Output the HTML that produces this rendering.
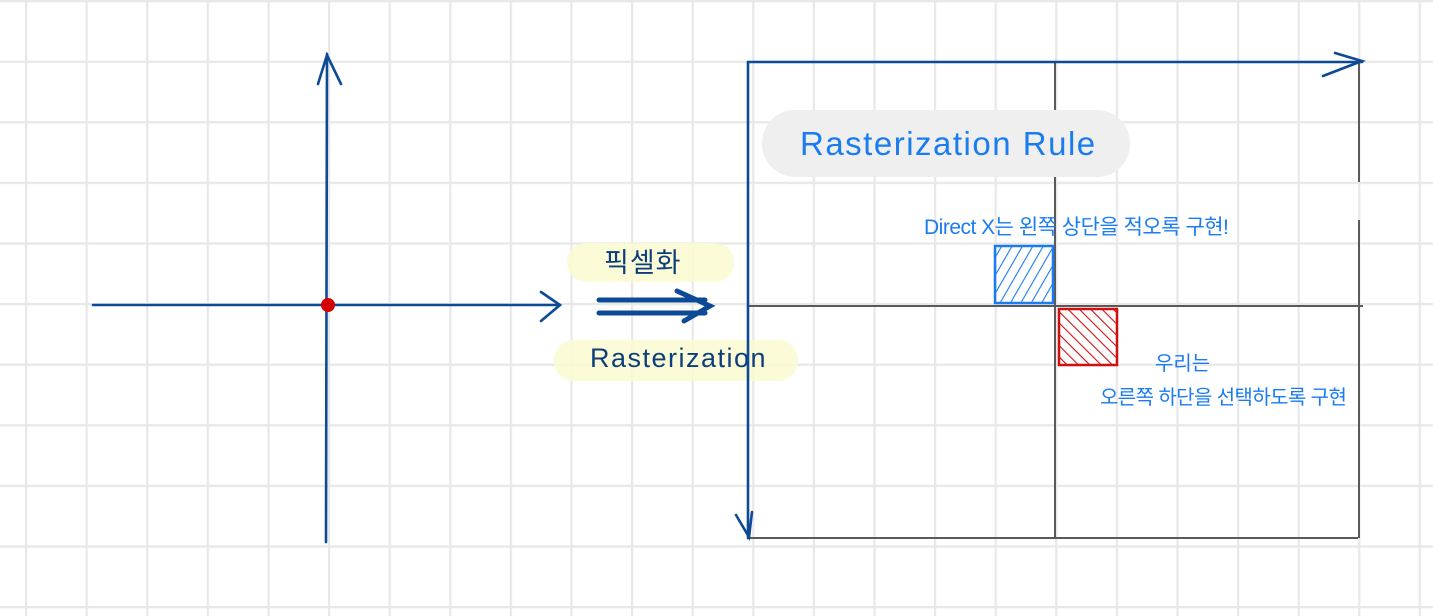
<!DOCTYPE html>
<html><head><meta charset="utf-8"><style>
html,body{margin:0;padding:0;background:#fff;}
svg{display:block}
text{font-family:"Liberation Sans","Noto Sans CJK KR",sans-serif;}
</style></head><body>
<svg width="1433" height="616" viewBox="0 0 1433 616" xmlns="http://www.w3.org/2000/svg">
<defs>
<pattern id="g" x="25" y="0" width="60.6" height="60.6" patternUnits="userSpaceOnUse">
<path d="M1.1 0V60.6M0 1.1H60.6" stroke="#e8e8e8" stroke-width="2.2" fill="none"/>
</pattern>
<pattern id="hb" width="9" height="9" patternUnits="userSpaceOnUse" patternTransform="rotate(30)">
<line x1="0" y1="0" x2="0" y2="9" stroke="#1a7cf0" stroke-width="2.2"/>
</pattern>
<pattern id="hr" width="8" height="8" patternUnits="userSpaceOnUse" patternTransform="rotate(-45)">
<line x1="0" y1="0" x2="0" y2="8" stroke="#d01010" stroke-width="2.2"/>
</pattern>
</defs>
<rect width="1433" height="616" fill="#fff"/>
<rect x="0" y="-1.1" width="1433" height="620" fill="url(#g)"/>

<g stroke="#0c4a96" stroke-width="2.6" fill="none" stroke-linecap="round">
<line x1="93" y1="305" x2="560" y2="305"/>
<path d="M541 292 L560 305 L541 321"/>
<line x1="326" y1="542" x2="327" y2="54"/>
<path d="M318 84 L327 55 L341 84"/>
</g>
<circle cx="328" cy="305" r="7" fill="#d40000"/>

<rect x="567" y="243" width="167" height="39" rx="19" fill="#fafad0" opacity="0.85"/>
<rect x="554" y="340" width="244" height="41" rx="20" fill="#fafad0" opacity="0.85"/>
<text x="604" y="272" font-size="27" fill="#0c3f7a" letter-spacing="1">픽셀화</text>
<text x="590" y="367" font-size="27" fill="#0c3f7a" letter-spacing="1.5">Rasterization</text>

<g stroke="#0c4a96" stroke-width="5" fill="none" stroke-linecap="round">
<line x1="599" y1="300" x2="705" y2="300"/>
<line x1="599" y1="313" x2="705" y2="313"/>
<path d="M677 291 L710 306 L684 321"/>
</g>

<g stroke="#5a5a5a" stroke-width="2" fill="none">
<line x1="1055" y1="62" x2="1055" y2="538"/>
<line x1="748" y1="306" x2="1363" y2="306"/>
<line x1="748" y1="538" x2="1358" y2="538"/>
<line x1="1359" y1="62" x2="1359" y2="182"/>
<line x1="1359" y1="220" x2="1359" y2="538"/>
</g>
<g stroke="#0c4a96" stroke-width="2.6" fill="none" stroke-linecap="round">
<line x1="748" y1="62" x2="1362" y2="62"/>
<path d="M1335 53 L1362 61 L1323 76"/>
<line x1="748" y1="62" x2="748" y2="538"/>
<path d="M736 515 L749 537 L752 512"/>
</g>

<rect x="762" y="110" width="368" height="67" rx="33" fill="#efefef"/>
<text x="800" y="155" font-size="33" fill="#1a7cf0" letter-spacing="1.5" font-weight="300">Rasterization Rule</text>

<text x="924" y="234" font-size="21" fill="#1a7cf0" letter-spacing="-0.5">Direct X는 왼쪽 상단을 적오록 구현!</text>

<rect x="995" y="246" width="58" height="57" fill="url(#hb)" stroke="#1a7cf0" stroke-width="2.5"/>
<rect x="1059" y="309" width="58" height="56" fill="url(#hr)" stroke="#d01010" stroke-width="2.5"/>

<text x="1155" y="370" font-size="20" fill="#1a7cf0">우리는</text>
<text x="1100" y="404" font-size="20" fill="#1a7cf0" letter-spacing="-0.6">오른쪽 하단을 선택하도록 구현</text>
</svg>
</body></html>
